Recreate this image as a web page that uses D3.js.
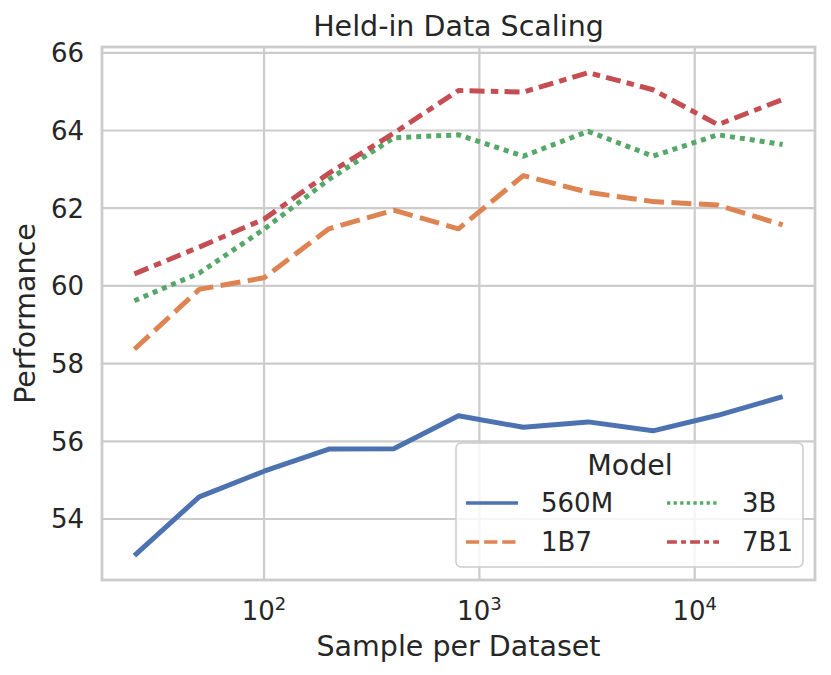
<!DOCTYPE html>
<html>
<head>
<meta charset="utf-8">
<script src="https://cdn.jsdelivr.net/npm/d3@7"></script>
<style>
  body { margin: 0; background: #fff; }
  text { font-family: "DejaVu Sans", sans-serif; fill: #262626; }
</style>
</head>
<body>
<div id="chart"></div>
<script>
// values
const samples = [25, 50, 100, 200, 400, 800, 1600, 3200, 6400, 12800, 25600];
const models = ["560M", "1B7", "3B", "7B1"];
const perf560M = [53.06, 54.57, 55.23, 55.80, 55.81, 56.66, 56.36, 56.50, 56.27, 56.67, 57.15];
const perf1B7 = [58.37, 59.91, 60.21, 61.47, 61.95, 61.47, 62.84, 62.41, 62.17, 62.08, 61.57];
const perf3B = [59.62, 60.33, 61.46, 62.74, 63.81, 63.89, 63.34, 63.98, 63.34, 63.89, 63.64];
const perf7B1 = [60.31, 61.00, 61.72, 62.90, 63.93, 65.03, 64.99, 65.49, 65.05, 64.15, 64.80];
const yTicks = [54, 56, 58, 60, 62, 64, 66];
const xTicks = [100, 1000, 10000];

const width = 831, height = 675,
      margin = ({ top: 47, right: 16, bottom: 95, left: 102 });

const colors = ["#4c72b0", "#dd8452", "#55a868", "#c44e52"];
const dashes = [[], [4, 1.5], [1, 1], [3, 1.25, 1.5, 1.25]]; // seaborn defaults, scaled by line width
const series = [perf560M, perf1B7, perf3B, perf7B1];

let svg = d3.select("#chart")
    .append("svg")
    .attr("width", width)
    .attr("height", height);

let x = d3.scaleLog()
    .domain([Math.pow(10, 1.2475), Math.pow(10, 4.5585)])
    .range([margin.left, width - margin.right]);

let y = d3.scaleLinear()
    .domain([52.43, 66.15])
    .range([height - margin.bottom, margin.top]);

// grid lines
svg.append("g")
    .selectAll("line")
    .data(xTicks)
    .join("line")
    .attr("x1", d => x(d)).attr("x2", d => x(d))
    .attr("y1", margin.top).attr("y2", height - margin.bottom)
    .attr("stroke", "#cccccc")
    .attr("stroke-width", 2.2);

svg.append("g")
    .selectAll("line")
    .data(yTicks)
    .join("line")
    .attr("x1", margin.left).attr("x2", width - margin.right)
    .attr("y1", d => y(d)).attr("y2", d => y(d))
    .attr("stroke", "#cccccc")
    .attr("stroke-width", 2.2);

// spines
svg.append("rect")
    .attr("x", margin.left)
    .attr("y", margin.top)
    .attr("width", width - margin.left - margin.right)
    .attr("height", height - margin.top - margin.bottom)
    .attr("fill", "none")
    .attr("stroke", "#cccccc")
    .attr("stroke-width", 2.8);

// tick labels
svg.append("g")
    .selectAll("text")
    .data(yTicks)
    .join("text")
    .attr("x", margin.left - 18)
    .attr("y", d => y(d))
    .attr("dy", "0.36em")
    .attr("text-anchor", "end")
    .style("font-size", "26px")
    .text(d => d);

let xt = svg.append("g")
    .selectAll("text")
    .data(xTicks)
    .join("text")
    .attr("x", d => x(d))
    .attr("y", 620)
    .attr("text-anchor", "middle")
    .style("font-size", "26px");
xt.append("tspan").text("10");
xt.append("tspan")
    .attr("dy", -10)
    .style("font-size", "18px")
    .text(d => Math.round(Math.log10(d)));

// lines
let line = d3.line()
    .x((d, i) => x(samples[i]))
    .y(d => y(d));

const lw = 5;
svg.append("g")
    .selectAll("path")
    .data(series)
    .join("path")
    .attr("d", d => line(d))
    .attr("fill", "none")
    .attr("stroke", (d, i) => colors[i])
    .attr("stroke-width", lw)
    .attr("stroke-linejoin", "round")
    .attr("stroke-dasharray", (d, i) => dashes[i].map(v => v * lw).join(","));

// titles
svg.append("text")
    .attr("x", (margin.left + width - margin.right) / 2)
    .attr("y", 36)
    .attr("text-anchor", "middle")
    .style("font-size", "28.5px")
    .text("Held-in Data Scaling");

svg.append("text")
    .attr("x", (margin.left + width - margin.right) / 2)
    .attr("y", 656)
    .attr("text-anchor", "middle")
    .style("font-size", "28.5px")
    .text("Sample per Dataset");

svg.append("text")
    .attr("transform", `translate(35,${(margin.top + height - margin.bottom) / 2}) rotate(-90)`)
    .attr("text-anchor", "middle")
    .style("font-size", "28.5px")
    .text("Performance");

// legend
let legend = svg.append("g");
legend.append("rect")
    .attr("x", 456).attr("y", 443)
    .attr("width", 347).attr("height", 124)
    .attr("rx", 5)
    .attr("fill", "rgba(255,255,255,0.8)")
    .attr("stroke", "#cccccc")
    .attr("stroke-width", 1.5);

legend.append("text")
    .attr("x", 630)
    .attr("y", 475)
    .attr("text-anchor", "middle")
    .style("font-size", "28.5px")
    .text("Model");

const llw = 3.3;
let item = legend.selectAll(".item")
    .data(models)
    .join("g")
    .attr("class", "item")
    .attr("transform", (d, i) => `translate(${i < 2 ? 466 : 667},${i % 2 === 0 ? 503 : 542})`);

item.append("line")
    .attr("x1", 0).attr("x2", 52)
    .attr("stroke", (d, i) => colors[i])
    .attr("stroke-width", llw)
    .attr("stroke-dasharray", (d, i) => dashes[i].map(v => v * llw).join(","));

item.append("text")
    .attr("x", 75)
    .attr("dy", "0.36em")
    .style("font-size", "26px")
    .text(d => d);
</script>
</body>
</html>
